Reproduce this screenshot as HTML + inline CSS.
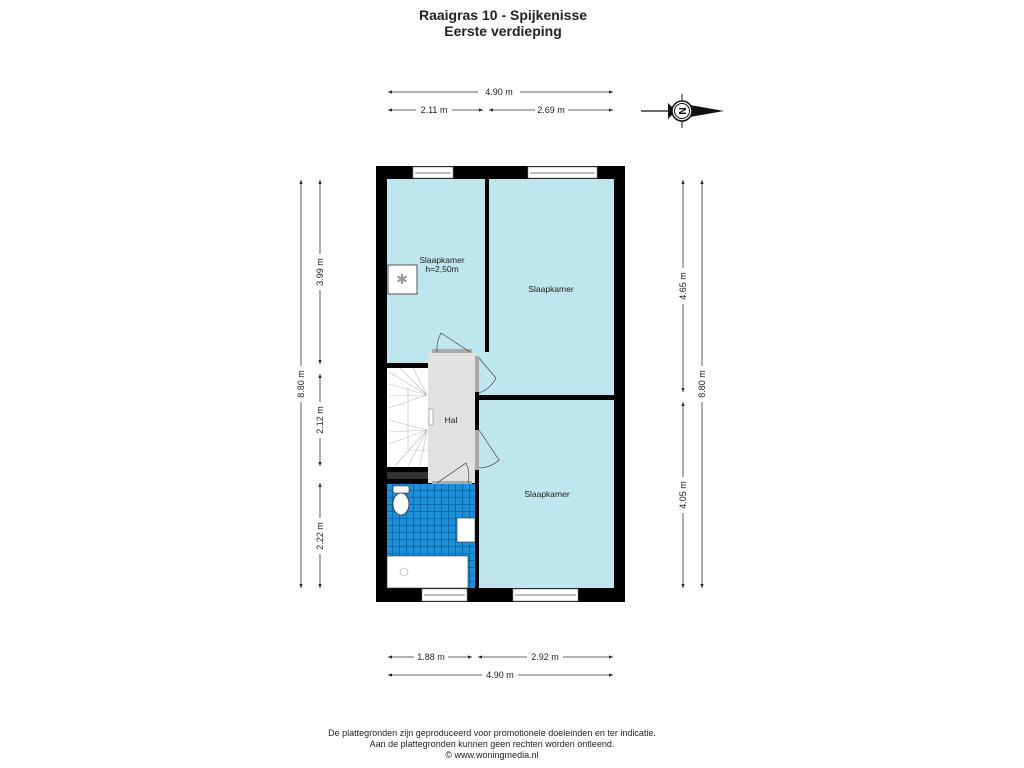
<!DOCTYPE html>
<html><head><meta charset="utf-8"><style>
html,body{margin:0;padding:0;background:#fff;}
svg{display:block;font-family:"Liberation Sans",Arial,sans-serif;}
</style></head><body>
<svg width="1024" height="768" viewBox="0 0 1024 768" xmlns="http://www.w3.org/2000/svg">
<defs>
<marker id="a" viewBox="0 0 10 10" refX="10" refY="5" markerWidth="6" markerHeight="5" orient="auto-start-reverse"><path d="M0,1 L10,5 L0,9 z" fill="#222"/></marker>
<pattern id="tile" width="7" height="7" patternUnits="userSpaceOnUse"><rect width="7" height="7" fill="#1b8fd8"/><path d="M0,0.5H7M0.5,0V7" stroke="#0a5fa0" stroke-width="0.8"/></pattern>
</defs>
<text x="503" y="20" font-size="14" font-weight="bold" text-anchor="middle" fill="#222">Raaigras 10 - Spijkenisse</text>
<text x="503" y="36" font-size="14" font-weight="bold" text-anchor="middle" fill="#222">Eerste verdieping</text>

<g stroke="#333" stroke-width="0.8" fill="none">
<line x1="388" y1="92" x2="478" y2="92" marker-start="url(#a)"/><line x1="520" y1="92" x2="613" y2="92" marker-end="url(#a)"/>
<line x1="388" y1="110" x2="416" y2="110" marker-start="url(#a)"/><line x1="452" y1="110" x2="483" y2="110" marker-end="url(#a)"/>
<line x1="489" y1="110" x2="535" y2="110" marker-start="url(#a)"/><line x1="568" y1="110" x2="613" y2="110" marker-end="url(#a)"/>
<line x1="388" y1="657" x2="414" y2="657" marker-start="url(#a)"/><line x1="448" y1="657" x2="472" y2="657" marker-end="url(#a)"/>
<line x1="478" y1="657" x2="527" y2="657" marker-start="url(#a)"/><line x1="563" y1="657" x2="613" y2="657" marker-end="url(#a)"/>
<line x1="388" y1="675" x2="482" y2="675" marker-start="url(#a)"/><line x1="518" y1="675" x2="613" y2="675" marker-end="url(#a)"/>
<line x1="301" y1="180" x2="301" y2="366" marker-start="url(#a)"/><line x1="301" y1="402" x2="301" y2="588" marker-end="url(#a)"/>
<line x1="320" y1="180" x2="320" y2="254" marker-start="url(#a)"/><line x1="320" y1="290" x2="320" y2="364" marker-end="url(#a)"/>
<line x1="320" y1="374" x2="320" y2="402" marker-start="url(#a)"/><line x1="320" y1="438" x2="320" y2="466" marker-end="url(#a)"/>
<line x1="320" y1="483" x2="320" y2="518" marker-start="url(#a)"/><line x1="320" y1="554" x2="320" y2="588" marker-end="url(#a)"/>
<line x1="683" y1="180" x2="683" y2="268" marker-start="url(#a)"/><line x1="683" y1="304" x2="683" y2="392" marker-end="url(#a)"/>
<line x1="683" y1="402" x2="683" y2="477" marker-start="url(#a)"/><line x1="683" y1="513" x2="683" y2="588" marker-end="url(#a)"/>
<line x1="702" y1="180" x2="702" y2="366" marker-start="url(#a)"/><line x1="702" y1="402" x2="702" y2="588" marker-end="url(#a)"/>
</g>
<g font-size="9" fill="#222" text-anchor="middle">
<text x="499" y="95">4.90 m</text>
<text x="434" y="113">2.11 m</text><text x="551" y="113">2.69 m</text>
<text x="431" y="660">1.88 m</text><text x="545" y="660">2.92 m</text>
<text x="500" y="678">4.90 m</text>
<text transform="translate(304,384) rotate(-90)">8.80 m</text>
<text transform="translate(323,272) rotate(-90)">3.99 m</text>
<text transform="translate(323,420) rotate(-90)">2.12 m</text>
<text transform="translate(323,536) rotate(-90)">2.22 m</text>
<text transform="translate(686,286) rotate(-90)">4.65 m</text>
<text transform="translate(686,495) rotate(-90)">4.05 m</text>
<text transform="translate(705,384) rotate(-90)">8.80 m</text>
</g>
<!-- compass -->
<g>
<line x1="641" y1="111" x2="672" y2="111" stroke="#111" stroke-width="1.2"/>
<path d="M690,105 L724,111 L690,117 z" fill="#111"/>
<path d="M668,103 L676,111 L668,119 z" fill="#111"/>
<line x1="682" y1="94" x2="682" y2="128" stroke="#111" stroke-width="1"/>
<circle cx="682" cy="111" r="10" fill="#fff" stroke="#111" stroke-width="1.5"/>
<circle cx="682" cy="111" r="7.5" fill="#fff" stroke="#111" stroke-width="1"/>
<text x="682" y="115" font-size="10" font-weight="bold" text-anchor="middle" transform="rotate(-90 682 111)">N</text>
</g>

<!-- walls -->
<rect x="376" y="166" width="249" height="436" fill="#000"/>
<rect x="387" y="179" width="98" height="184" fill="#bfe5ef"/>
<rect x="489" y="179" width="125" height="216" fill="#bfe5ef"/>
<rect x="479" y="352" width="12" height="43" fill="#bfe5ef"/>
<rect x="479" y="400" width="135" height="188" fill="#bfe5ef"/>
<rect x="428" y="352" width="47" height="131" fill="#e3e1df"/>
<rect x="475" y="356" width="4" height="36" fill="#aaa"/>
<rect x="475" y="430" width="4" height="40" fill="#aaa"/>
<rect x="432" y="349" width="40" height="4" fill="#aaa"/>
<rect x="432" y="481" width="40" height="4" fill="#aaa"/>
<rect x="387" y="368" width="41" height="99" fill="#fff"/>
<rect x="387" y="472" width="41" height="7" fill="#333"/>
<rect x="387" y="484" width="88" height="104" fill="url(#tile)"/>
<!-- stairs lines -->
<g stroke="#bbb" stroke-width="0.6" fill="none">
<path d="M427,395 L389,372 M427,395 L400,368 M427,395 L413,368 M427,395 L389,384 M427,395 L389,396 M427,395 L389,408 M427,430 L389,420 M427,430 L389,432 M427,430 L389,444 M427,430 L395,466 M427,430 L408,466 M427,430 L420,466 M408,387 V450 H427"/>
</g>
<rect x="429" y="409" width="4" height="16" fill="#fff" stroke="#777" stroke-width="0.5"/>
<!-- door swings -->
<g stroke="#333" stroke-width="0.6" fill="none">
<path d="M437,352 A33,33 0 0 1 441,333 L470,352"/>
<path d="M479,358 L496,378 A30,30 0 0 1 479,393"/>
<path d="M479,430 L499,460 A30,30 0 0 1 479,468"/>
<path d="M437,483 L466,463 A30,30 0 0 1 468,483"/>
</g>
<!-- windows -->
<g fill="#fff" stroke="#888" stroke-width="0.6">
<rect x="413" y="167" width="40" height="11"/><rect x="528" y="167" width="69" height="11"/>
<rect x="422" y="589" width="45" height="12"/><rect x="513" y="589" width="65" height="12"/>
</g>
<g stroke="#aaa" stroke-width="1.5"><line x1="415" y1="173" x2="451" y2="173"/><line x1="530" y1="173" x2="595" y2="173"/><line x1="424" y1="595" x2="465" y2="595"/><line x1="515" y1="595" x2="576" y2="595"/></g>
<!-- fixtures -->
<rect x="388" y="265" width="29" height="29" fill="#fff" stroke="#333" stroke-width="0.8"/>
<text x="402" y="284" font-size="14" fill="#999" text-anchor="middle">✱</text>
<rect x="393" y="486" width="16" height="7" rx="2" fill="#fff" stroke="#333" stroke-width="0.6"/>
<ellipse cx="401" cy="504" rx="8" ry="11" fill="#fff" stroke="#333" stroke-width="0.8"/>
<rect x="457" y="518" width="18" height="24" fill="#fff" stroke="#333" stroke-width="0.6"/>
<rect x="387" y="556" width="81" height="32" fill="#fff" stroke="#333" stroke-width="0.6"/>
<circle cx="404" cy="572" r="4" fill="#fff" stroke="#999" stroke-width="0.6"/>
<!-- labels -->
<g font-size="8.5" fill="#222" text-anchor="middle">
<text x="442" y="263">Slaapkamer</text><text x="442" y="272">h=2,50m</text>
<text x="551" y="292">Slaapkamer</text>
<text x="451" y="423">Hal</text>
<text x="547" y="497">Slaapkamer</text>
</g>
<g font-size="9" fill="#222" text-anchor="middle">
<text x="492" y="736">De plattegronden zijn geproduceerd voor promotionele doeleinden en ter indicatie.</text>
<text x="492" y="747">Aan de plattegronden kunnen geen rechten worden ontleend.</text>
<text x="492" y="758">© www.woningmedia.nl</text>
</g>
</svg>
</body></html>
